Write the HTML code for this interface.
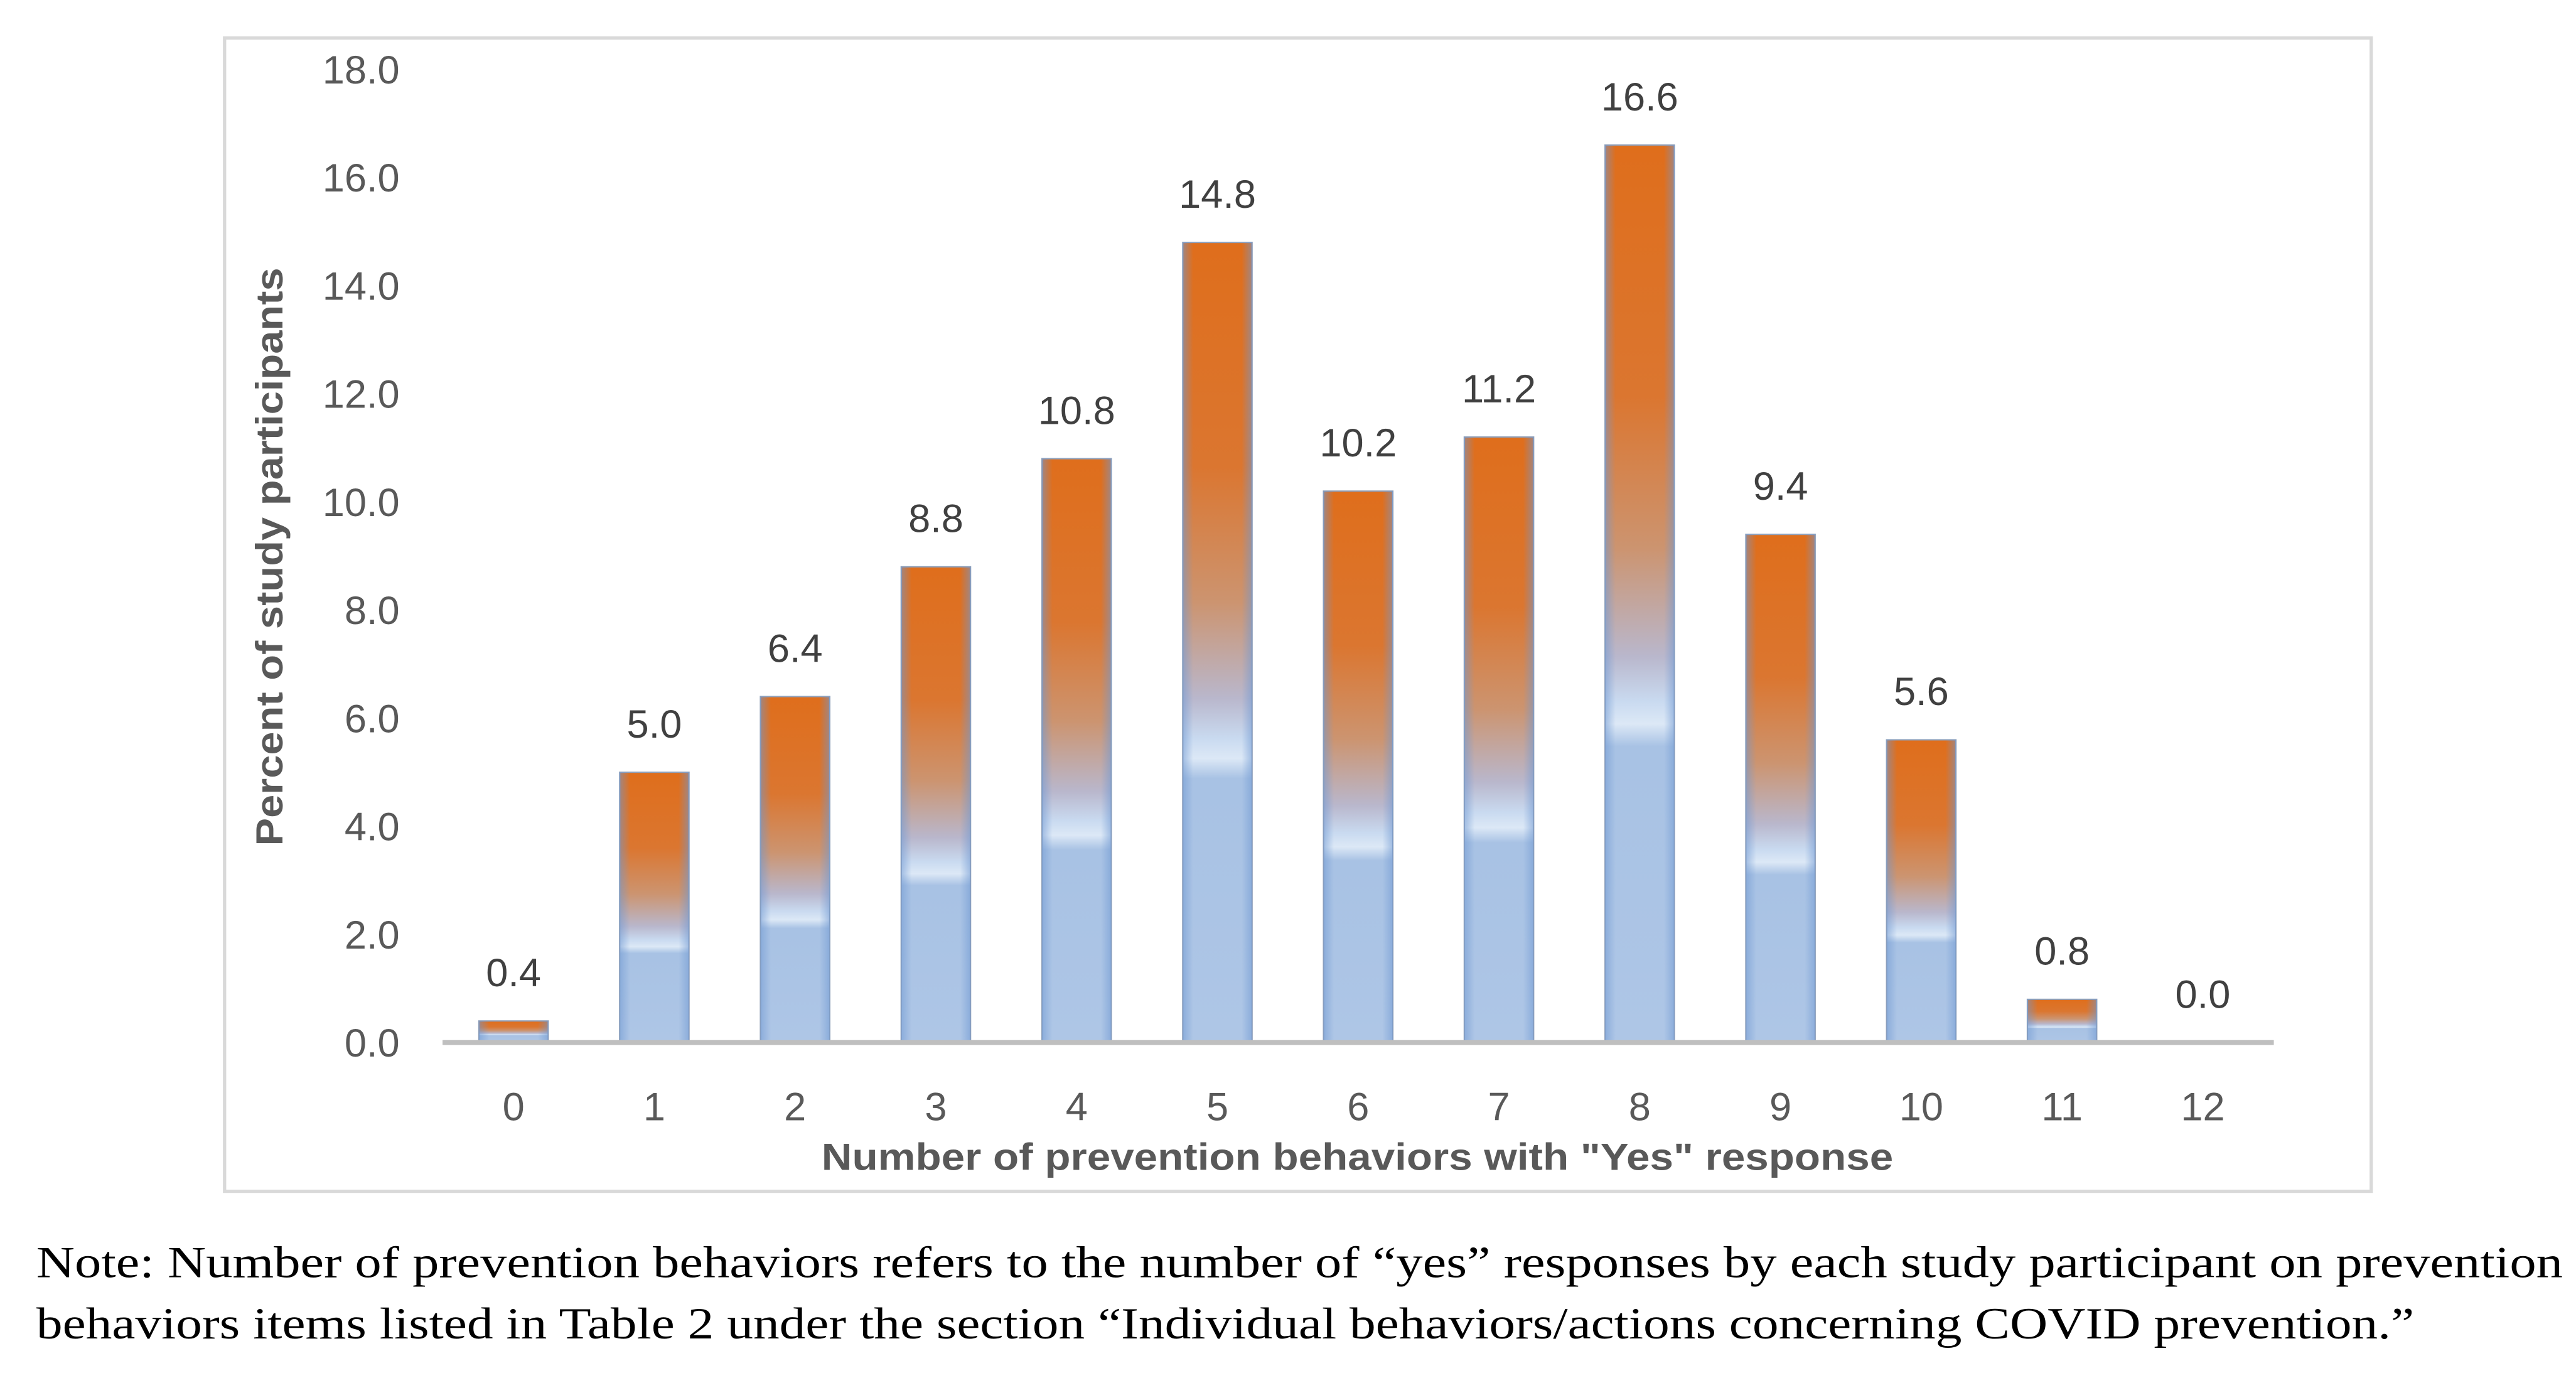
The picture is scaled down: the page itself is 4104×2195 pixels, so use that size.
<!DOCTYPE html>
<html><head><meta charset="utf-8"><style>
html,body{margin:0;padding:0;background:#fff;}
svg{display:block;}
</style></head><body>
<svg id="chart" width="4104" height="2195" viewBox="0 0 1560 834" preserveAspectRatio="none" xmlns="http://www.w3.org/2000/svg">
<defs>
<linearGradient id="vg" x1="0" y1="0" x2="0" y2="1">
<stop offset="0" stop-color="#DF6E1C"/>
<stop offset="0.28" stop-color="#DB7630"/>
<stop offset="0.45" stop-color="#CC9470"/>
<stop offset="0.57" stop-color="#B9B7CC"/>
<stop offset="0.62" stop-color="#C9DAF0"/>
<stop offset="0.645" stop-color="#DCE8F6"/>
<stop offset="0.67" stop-color="#A8C2E4"/>
<stop offset="1" stop-color="#AEC6E6"/>
</linearGradient>
<linearGradient id="hg" x1="0" y1="0" x2="1" y2="0">
<stop offset="0" stop-color="#6F98D2" stop-opacity="0.55"/>
<stop offset="0.15" stop-color="#6F98D2" stop-opacity="0"/>
<stop offset="0.85" stop-color="#6F98D2" stop-opacity="0"/>
<stop offset="1" stop-color="#6F98D2" stop-opacity="0.55"/>
</linearGradient>
</defs>
<rect x="136" y="23" width="1300" height="698" fill="#fff" stroke="#D9D9D9" stroke-width="2"/>
<g id="yticks"></g>
<g id="bars"></g>
<line x1="268" y1="631" x2="1377" y2="631" stroke="#BFBFBF" stroke-width="3"/>
<g id="xticks"></g>
<text transform="translate(171,337) rotate(-90)" text-anchor="middle" font-family="Liberation Sans, sans-serif" font-weight="bold" font-size="23" fill="#595959" textLength="350" lengthAdjust="spacingAndGlyphs">Percent of study participants</text>
<text x="822" y="708" text-anchor="middle" font-family="Liberation Sans, sans-serif" font-weight="bold" font-size="23" fill="#595959" textLength="649" lengthAdjust="spacingAndGlyphs">Number of prevention behaviors with "Yes" response</text>
<text x="22" y="773" font-family="Liberation Serif, serif" font-size="27" fill="#000" textLength="1530" lengthAdjust="spacingAndGlyphs">Note: Number of prevention behaviors refers to the number of “yes” responses by each study participant on prevention</text>
<text x="22" y="810" font-family="Liberation Serif, serif" font-size="27" fill="#000" textLength="1440" lengthAdjust="spacingAndGlyphs">behaviors items listed in Table 2 under the section “Individual behaviors/actions concerning COVID prevention.”</text>
</svg>
<script>
const categories = ["0","1","2","3","4","5","6","7","8","9","10","11","12"];
const values = [0.4,5.0,6.4,8.8,10.8,14.8,10.2,11.2,16.6,9.4,5.6,0.8,0.0];
const yTicks = [0,2,4,6,8,10,12,14,16,18];
const NS = "http://www.w3.org/2000/svg";
const y0 = 631, yTop = 42, yMax = 18;
const xStart = 311, xStep = 85.25, barW = 42;
function yScale(v){ return y0 - (v / yMax) * (y0 - yTop); }
function xScale(i){ return xStart + i * xStep; }
function mk(tag, attrs){ const e = document.createElementNS(NS, tag); for (const k in attrs) e.setAttribute(k, attrs[k]); return e; }
const yg = document.getElementById('yticks');
yTicks.forEach(t => {
  const tx = mk('text', {x: 242, y: yScale(t) + 8.5, 'text-anchor': 'end', 'font-family': 'Liberation Sans, sans-serif', 'font-size': '24', fill: '#595959'});
  
  
  tx.textContent = t.toFixed(1);
  yg.appendChild(tx);
});
const bg = document.getElementById('bars');
const xg = document.getElementById('xticks');
categories.forEach((c, i) => {
  const v = values[i];
  const cx = xScale(i);
  const top = yScale(v);
  const h = y0 - top;
  if (h > 0) {
    const r = mk('rect', {x: cx - barW/2, y: top, width: barW, height: h, fill: 'url(#vg)', stroke: '#8FA0BA', 'stroke-width': '0.8'});
    
    
    bg.appendChild(r);
    const r2 = mk('rect', {x: cx - barW/2, y: top, width: barW, height: h, fill: 'url(#hg)'});
    
    
    bg.appendChild(r2);
  }
  const lbl = mk('text', {x: cx, y: top - 21, 'text-anchor': 'middle', 'font-family': 'Liberation Sans, sans-serif', 'font-size': '24', fill: '#404040'});
  
  
  lbl.textContent = v.toFixed(1);
  bg.appendChild(lbl);
  const xt = mk('text', {x: cx, y: 678, 'text-anchor': 'middle', 'font-family': 'Liberation Sans, sans-serif', 'font-size': '24', fill: '#595959'});
  
  
  xt.textContent = c;
  xg.appendChild(xt);
});
</script>
</body></html>
